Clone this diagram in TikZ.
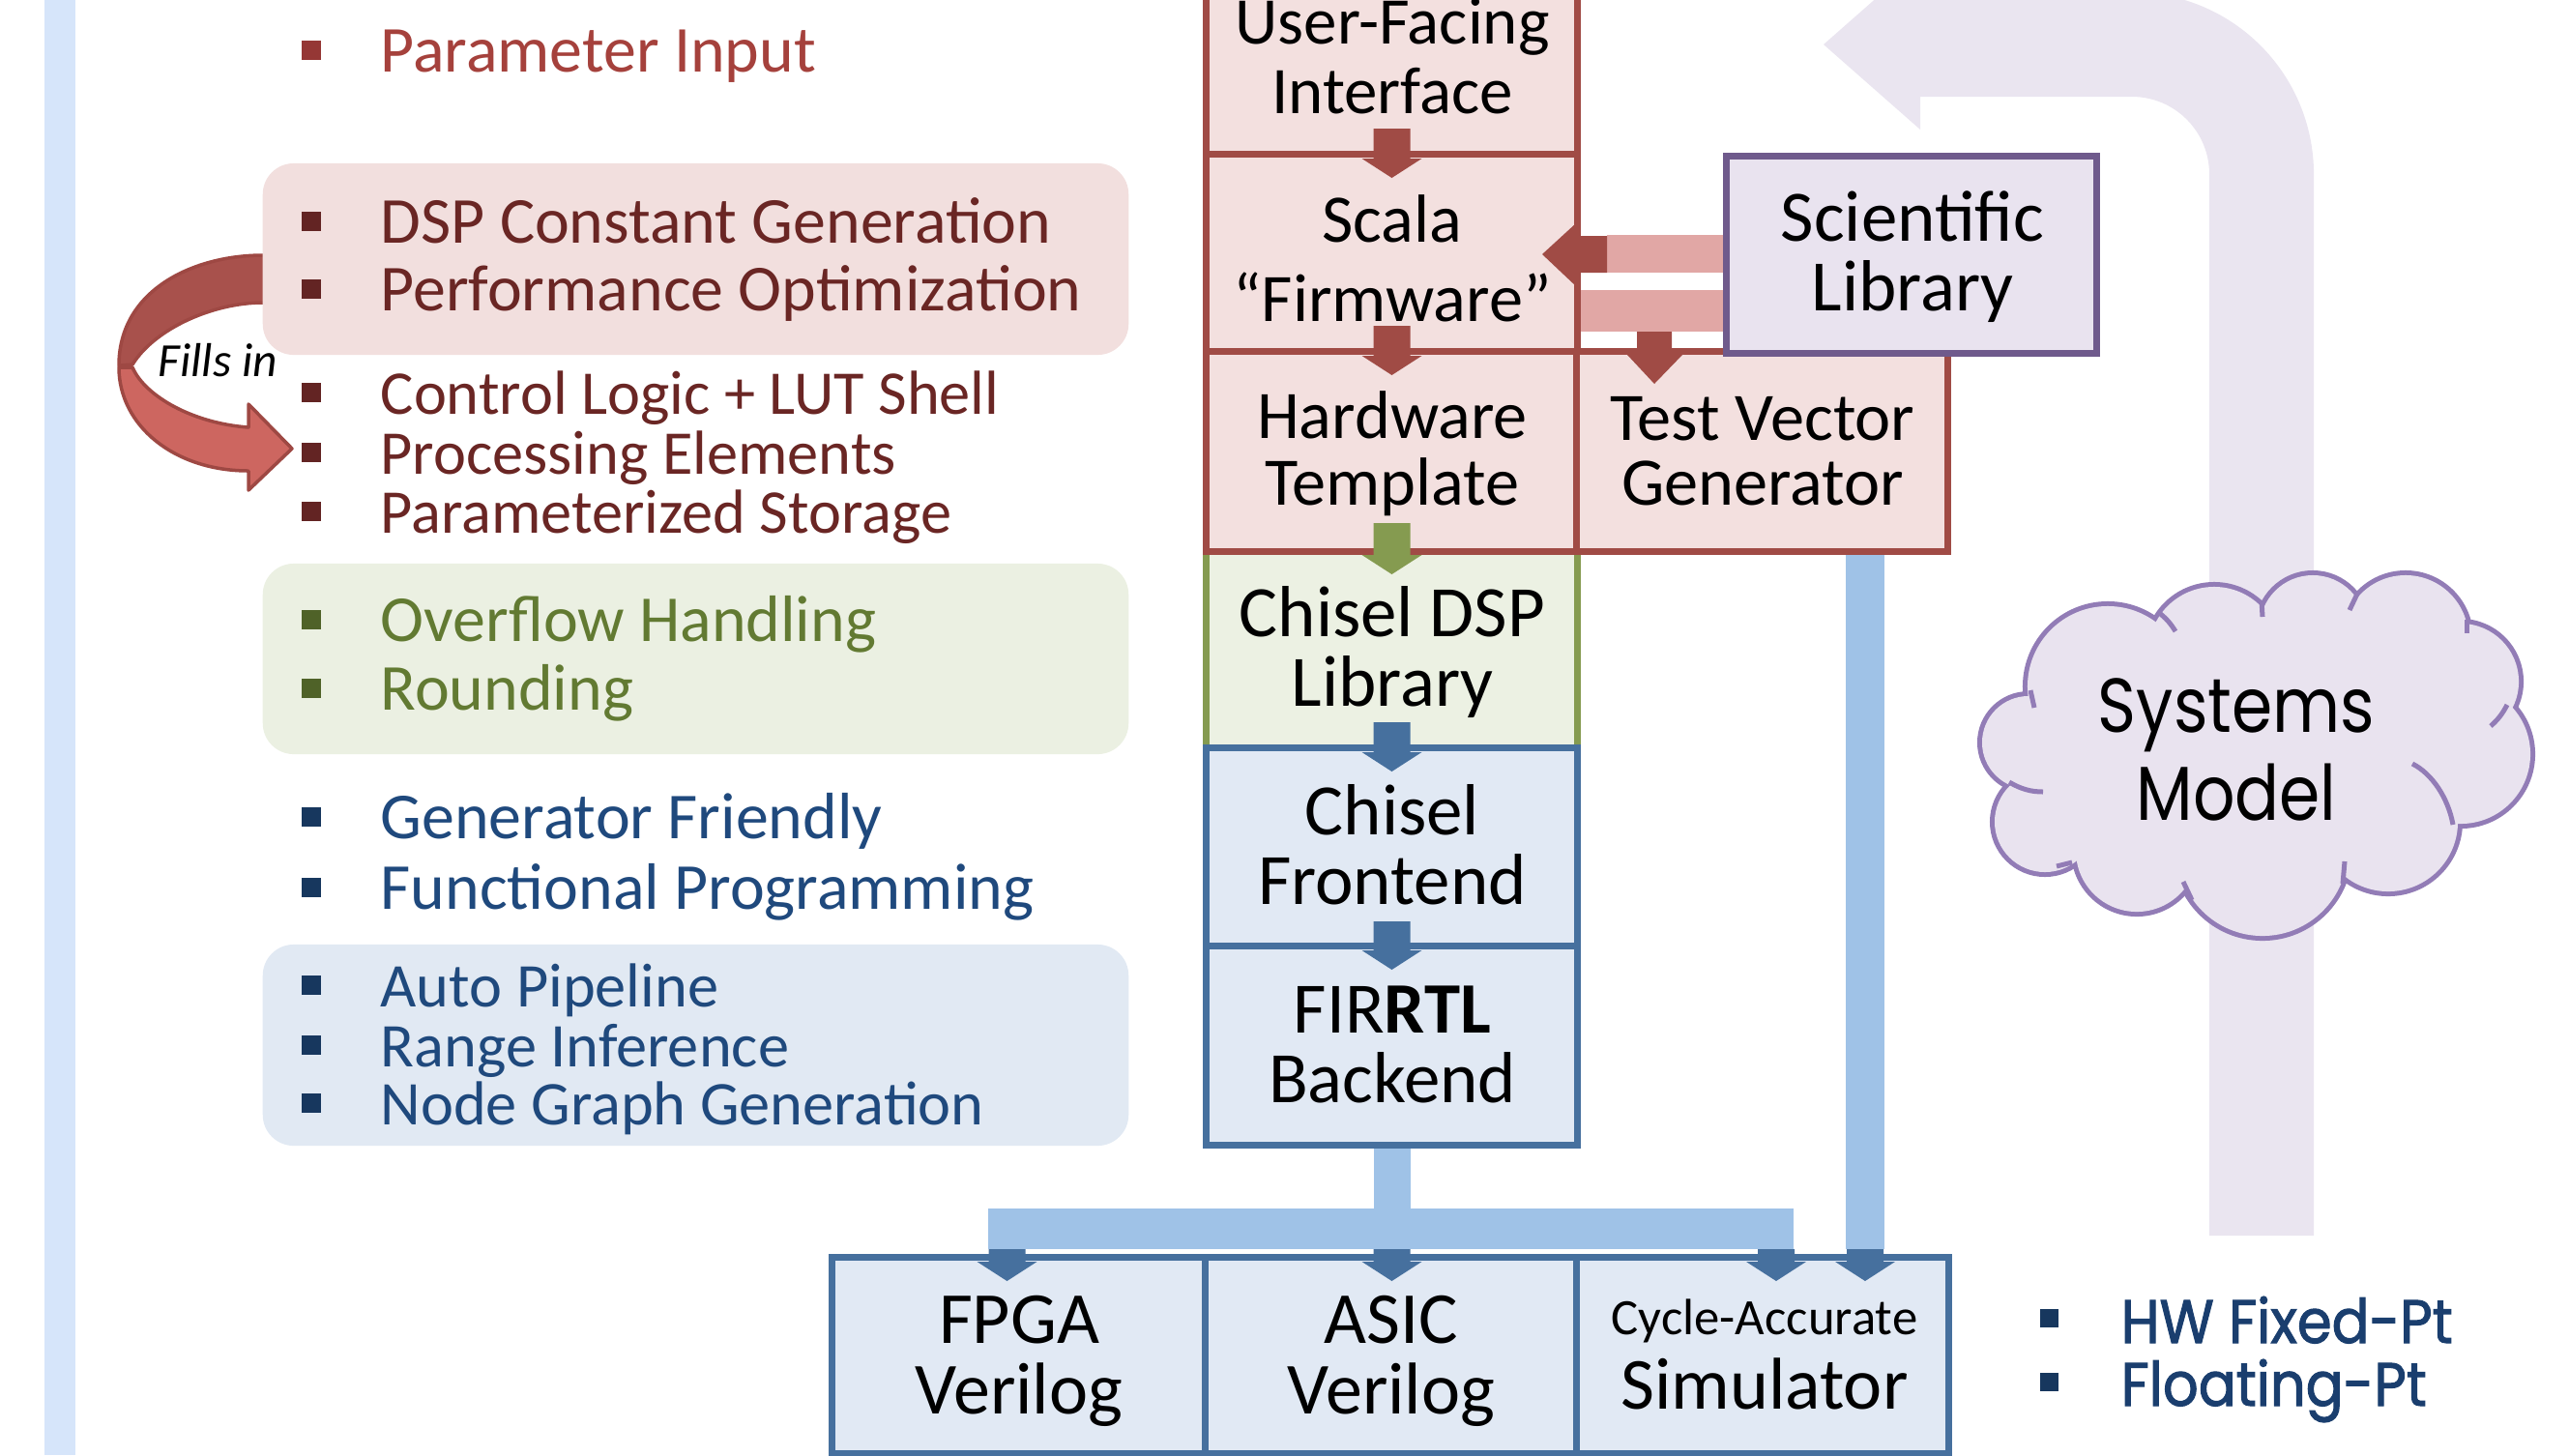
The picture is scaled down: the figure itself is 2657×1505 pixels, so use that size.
\documentclass[tikz,border=0pt]{standalone}
\usepackage{fontspec}
\setmainfont{Carlito}
\newfontfamily\gothic[FakeStretch=0.86]{Poppins}
\newfontfamily\gothicb[FakeStretch=0.91,FakeBold=1.6]{Poppins}
\usetikzlibrary{calc}
\definecolor{leftbar}{RGB}{214,229,250}
\definecolor{redborder}{RGB}{160,75,69}
\definecolor{redfill}{RGB}{243,224,223}
\definecolor{pinkbar}{RGB}{225,167,165}
\definecolor{greenborder}{RGB}{133,155,80}
\definecolor{greenfill}{RGB}{236,241,227}
\definecolor{blueborder}{RGB}{70,112,158}
\definecolor{bluefill}{RGB}{225,233,244}
\definecolor{lightblue}{RGB}{159,194,231}
\definecolor{purpborder}{RGB}{111,90,140}
\definecolor{purpfill}{RGB}{233,227,239}
\definecolor{uarrow}{RGB}{234,229,240}
\definecolor{cloudborder}{RGB}{146,124,182}
\definecolor{ptextA}{RGB}{165,65,60}
\definecolor{pbulA}{RGB}{149,55,53}
\definecolor{ptext}{RGB}{106,38,36}
\definecolor{pbul}{RGB}{99,36,35}
\definecolor{gtext}{RGB}{98,122,50}
\definecolor{gbul}{RGB}{79,98,40}
\definecolor{btext}{RGB}{31,73,125}
\definecolor{bbul}{RGB}{23,55,94}
\definecolor{hwtext}{RGB}{26,62,110}
\definecolor{pinkpanel}{RGB}{242,223,222}
\definecolor{greenpanel}{RGB}{235,240,226}
\definecolor{bluepanel}{RGB}{225,233,243}
\definecolor{fillsdark}{RGB}{168,81,76}
\definecolor{fillslight}{RGB}{205,102,96}
\definecolor{fillsedge}{RGB}{158,72,67}
\newcommand\fsz[1]{\fontsize{#1}{#1}\selectfont}
% down stub arrow: x, border y, shaft top y, colour
\newcommand\stubd[4]{\fill[#4] ({#1-19},#3) -- ({#1+19},#3) -- ({#1+19},{#2+4}) -- ({#1+31},{#2+4}) -- (#1,{#2+24}) -- ({#1-31},{#2+4}) -- ({#1-19},{#2+4}) -- cycle;}
\newcommand\pbullet[2]{\fill[#2] (312,{#1-32}) rectangle (332,{#1-12});}
\begin{document}
\begin{tikzpicture}[x=0.01cm,y=-0.01cm,
  boxr/.style={draw=redborder,fill=redfill,line width=0.07cm,inner sep=0,outer sep=0},
  boxg/.style={draw=greenborder,fill=greenfill,line width=0.07cm,inner sep=0,outer sep=0},
  boxb/.style={draw=blueborder,fill=bluefill,line width=0.07cm,inner sep=0,outer sep=0},
  boxp/.style={draw=purpborder,fill=purpfill,line width=0.07cm,inner sep=0,outer sep=0},
  panel/.style={draw=none,rounded corners=0.32cm,inner sep=0,outer sep=0,minimum width=8.95cm},
  btxt/.style={font=\fsz{20pt},inner sep=0,anchor=base},
  ctxt/.style={font=\fsz{21.3pt},inner sep=0,anchor=base},
  ltxt/.style={font=\fsz{19.3pt},inner sep=0,anchor=base west},
  stxt/.style={font=\fsz{18.3pt},inner sep=0,anchor=base west},
  cloudline/.style={draw=cloudborder,line width=0.05cm},
  lb/.style={draw=lightblue}]
\useasboundingbox (0,0) rectangle (2657,1505);
\clip (0,0) rectangle (2657,1505);
% left bar
\fill[leftbar] (46,0) rectangle (78,1505);
% Fills in arrow
\filldraw[fill=fillsdark,draw=fillsedge,line width=0.035cm,line join=round]
  (290,264) -- (272,264) .. controls (200,264) and (123,300) .. (123,378)
  -- (137,377) .. controls (160,340) and (220,313) .. (272,313) -- (290,313) -- cycle;
\filldraw[fill=fillslight,draw=fillsedge,line width=0.035cm,line join=round]
  (123,380) .. controls (123,440) and (180,487) .. (257,487) -- (257,507) -- (302,464)
  -- (257,418) -- (257,442) .. controls (200,438) and (150,410) .. (137,380) -- cycle;
\node[font=\fsz{14pt}\itshape,inner sep=0,anchor=base west] (fills) at (163,389) {Fills in};
% panels
\node[panel,fill=pinkpanel,minimum height=1.98cm] (ppink) at (719.5,268) {};
\node[panel,fill=greenpanel,minimum height=1.97cm] (pgreen) at (719.5,681.5) {};
\node[panel,fill=bluepanel,minimum height=2.08cm] (pblue) at (719.5,1081) {};
% left texts
\pbullet{74}{pbulA}
\node[ltxt,text=ptextA] (l1) at (393,74) {Parameter Input};
\pbullet{251}{pbul}\pbullet{321}{pbul}\pbullet{428}{pbul}\pbullet{490}{pbul}\pbullet{551}{pbul}
\node[ltxt,text=ptext] (l2) at (393,251) {DSP Constant Generation};
\node[ltxt,text=ptext] (l3) at (393,321) {Performance Optimization};
\node[stxt,text=ptext] (l4) at (393,428) {Control Logic + LUT Shell};
\node[stxt,text=ptext] (l5) at (393,490) {Processing Elements};
\node[stxt,text=ptext] (l6) at (393,551) {Parameterized Storage};
\pbullet{663}{gbul}\pbullet{734}{gbul}
\node[ltxt,text=gtext] (l7) at (393,663) {Overflow Handling};
\node[ltxt,text=gtext] (l8) at (393,734) {Rounding};
\pbullet{867}{bbul}\pbullet{940}{bbul}\pbullet{1041}{bbul}\pbullet{1103}{bbul}\pbullet{1163}{bbul}
\node[ltxt,text=btext] (l9) at (393,867) {Generator Friendly};
\node[ltxt,text=btext] (l10) at (393,940) {Functional Programming};
\node[stxt,text=btext] (l11) at (393,1041) {Auto Pipeline};
\node[stxt,text=btext] (l12) at (393,1103) {Range Inference};
\node[stxt,text=btext] (l13) at (393,1163) {Node Graph Generation};
% big U arrow
\draw[uarrow,line width=1.08cm,rounded corners=1.34cm] (2339,1278) -- (2339,46) -- (1980,46);
\fill[uarrow] (1986,-42) -- (1886,46) -- (1986,134) -- cycle;
% light blue connectors
\coordinate (busL) at (1022,1271);
\coordinate (busR) at (1855,1271);
\coordinate (tvout) at (1929,560);
\coordinate (simin) at (1929,1292);
\draw[lb,line width=0.40cm] (tvout) -- (simin);
\draw[lb,line width=0.38cm] (1439.5,1180) -- (1439.5,1271);
\draw[lb,line width=0.42cm] (busL) -- (busR);
% pink bars from scientific library
\fill[pinkbar] (1662,243) rectangle (1786,282);
\fill[pinkbar] (1635,300) rectangle (1786,343);
% boxes
\node[boxg,minimum width=3.83cm,minimum height=2.04cm] (dsp) at (1439.5,672) {};
\node[boxr,minimum width=3.83cm,minimum height=2.00cm] (uf) at (1439.5,60) {};
\node[boxr,minimum width=3.83cm,minimum height=2.04cm] (scala) at (1439.5,262) {};
\node[boxr,minimum width=3.83cm,minimum height=2.06cm] (hw) at (1439.5,467) {};
\node[boxr,minimum width=3.83cm,minimum height=2.06cm] (tv) at (1822.5,467) {};
\node[boxp,minimum width=3.82cm,minimum height=2.03cm] (sci) at (1977,263.5) {};
\node[boxb,minimum width=3.83cm,minimum height=2.05cm] (fe) at (1439.5,876.5) {};
\node[boxb,minimum width=3.83cm,minimum height=2.05cm] (fir) at (1439.5,1081.5) {};
\node[boxb,minimum width=3.86cm,minimum height=2.02cm] (fpga) at (1054,1402) {};
\node[boxb,minimum width=3.84cm,minimum height=2.02cm] (asic) at (1439,1402) {};
\node[boxb,minimum width=3.84cm,minimum height=2.02cm] (sim) at (1823,1402) {};
% stubs
\stubd{1439.5}{160}{133}{redborder}
\stubd{1439.5}{364}{337}{redborder}
\stubd{1439.5}{570}{541}{greenborder}
\stubd{1439.5}{774}{747}{blueborder}
\stubd{1439.5}{979}{953}{blueborder}
\stubd{1041.5}{1301}{1292}{blueborder}
\stubd{1439.5}{1301}{1292}{blueborder}
\stubd{1837}{1301}{1292}{blueborder}
\stubd{1929}{1301}{1292}{blueborder}
\fill[redborder] (1662,244) -- (1631,244) -- (1631,230) -- (1595,263) -- (1631,297) -- (1631,282) -- (1662,282) -- cycle;
\fill[redborder] (1693,343) -- (1729,343) -- (1729,367) -- (1740,367) -- (1711,397) -- (1683,367) -- (1693,367) -- cycle;
% box texts
\node[btxt,font=\fsz{19.6pt}] (t1) at (1440,45) {User-Facing};
\node[btxt,font=\fsz{19.6pt}] (t2) at (1440,117) {Interface};
\node[btxt] (t3) at (1440,250) {Scala};
\node[btxt] (t4) at (1440,332) {“Firmware”};
\node[btxt] (t5) at (1440,453) {Hardware};
\node[btxt] (t6) at (1440,522) {Template};
\node[btxt] (t7) at (1823,455) {Test Vector};
\node[btxt] (t8) at (1823,522) {Generator};
\node[ctxt] (t9) at (1978,249) {Scientific};
\node[ctxt] (t10) at (1978,321) {Library};
\node[ctxt] (t11) at (1440,658) {Chisel DSP};
\node[ctxt] (t12) at (1440,730) {Library};
\node[ctxt] (t13) at (1440,863) {Chisel};
\node[ctxt] (t14) at (1440,935) {Frontend};
\node[ctxt] (t15) at (1440,1068) {FIR\textbf{RTL}};
\node[ctxt] (t16) at (1440,1140) {Backend};
\node[ctxt,font=\fsz{21.6pt}] (t17) at (1054,1389) {FPGA};
\node[ctxt,font=\fsz{21.6pt}] (t18) at (1054,1462) {Verilog};
\node[ctxt,font=\fsz{21.6pt}] (t19) at (1439,1389) {ASIC};
\node[ctxt,font=\fsz{21.6pt}] (t20) at (1439,1462) {Verilog};
\node[btxt,font=\fsz{15pt}] (t21) at (1825,1380) {Cycle-Accurate};
\node[ctxt,font=\fsz{21.6pt}] (t22) at (1825,1457) {Simulator};
% cloud
\foreach \cx/\cy/\r in {2098/768/0.48,2115/850/0.52,2210/880/0.63,2340/880/0.88,2470/850/0.72,2545/780/0.72,2545/705/0.60,2488/660/0.65,2392/650/0.55,2290/675/0.68,2180/710/0.83}
  \filldraw[fill=purpfill,draw=cloudborder,line width=0.10cm] (\cx,\cy) circle (\r cm);
\foreach \cx/\cy/\r in {2098/768/0.48,2115/850/0.52,2210/880/0.63,2340/880/0.88,2470/850/0.72,2545/780/0.72,2545/705/0.60,2488/660/0.65,2392/650/0.55,2290/675/0.68,2180/710/0.83}
  \fill[purpfill] (\cx,\cy) circle (\r cm);
\fill[purpfill] (2098,768) -- (2115,850) -- (2210,880) -- (2340,880) -- (2470,850) -- (2545,780) -- (2545,705) -- (2488,660) -- (2392,650) -- (2290,675) -- (2180,710) -- cycle;
% cloud inner strokes
\draw[cloudline] (2232,633) to[bend left=10] (2250,653);
\draw[cloudline] (2339,621) -- (2340,638);
\draw[cloudline] (2439,612) -- (2430,631);
\draw[cloudline] (2551,641) -- (2551,655);
\draw[cloudline] (2593,729) to[bend left=10] (2576,751);
\draw[cloudline] (2495,790) .. controls (2515,800) and (2532,825) .. (2537,853);
\draw[cloudline] (2425,891) -- (2423,914);
\draw[cloudline] (2258,912) -- (2267,931);
\draw[cloudline] (2127,896) -- (2143,892);
\draw[cloudline] (2078,809) .. controls (2090,816) and (2100,819) .. (2113,819);
\draw[cloudline] (2100,714) -- (2104,732);
\node[inner sep=0,anchor=base,font=\gothic\fsz{22.5pt}] (sm1) at (2313,757) {Systems};
\node[inner sep=0,anchor=base,font=\gothic\fsz{22.5pt}] (sm2) at (2313,848) {Model};
% HW fixed-pt
\fill[bbul] (2110,1354) rectangle (2129,1373);
\fill[bbul] (2110,1420) rectangle (2129,1439);
\node[inner sep=0,anchor=base west,font=\gothicb\fsz{18pt},text=hwtext] (hw1) at (2193,1389) {HW Fixed-Pt};
\node[inner sep=0,anchor=base west,font=\gothicb\fsz{18pt},text=hwtext] (hw2) at (2193,1454) {Floating-Pt};
\end{tikzpicture}
\end{document}
